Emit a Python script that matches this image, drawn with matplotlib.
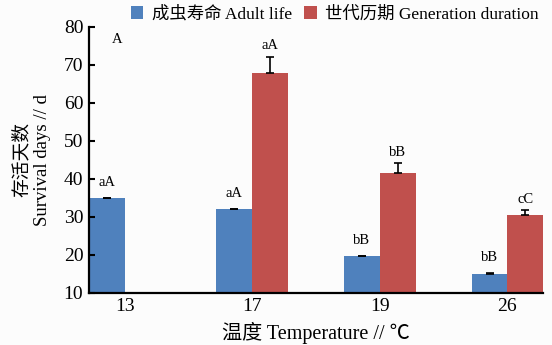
import numpy as np
import matplotlib.pyplot as plt

plt.rcParams['font.family'] = ['Liberation Serif', 'Noto Sans CJK SC']

temps = ['13', '17', '19', '26']
adult = [35, 32, 19.6, 15.1]
adult_err = [0, 0.2, 0.2, 0.2]
gen = [np.nan, 68, 41.5, 30.4]
gen_err = [0, 4.2, 2.6, 1.4]
adult_lab = ['aA', 'aA', 'bB', 'bB']
gen_lab = ['A', 'aA', 'bB', 'cC']

blue = '#4F81BD'
red = '#C0504D'

fig = plt.figure(figsize=(5.52, 3.45), dpi=100)
fig.patch.set_facecolor('#fcfcfc')
ax = fig.add_axes([0.161, 0.151, 0.823, 0.771])
ax.set_facecolor('#fcfcfc')

x = np.arange(len(temps))
w = 0.28
ekw = dict(ecolor='black', capsize=3, elinewidth=1.2, capthick=1.2)
ax.bar(x - w / 2, adult, w, color=blue, label='成虫寿命 Adult life',
       yerr=[np.zeros(4), adult_err], error_kw=ekw)
ax.bar(x + w / 2, gen, w, color=red, label='世代历期 Generation duration',
       yerr=[np.zeros(4), gen_err], error_kw=ekw)

for i in range(len(temps)):
    ax.text(x[i] - w / 2, adult[i] + adult_err[i] + 2.3, adult_lab[i],
            ha='center', va='bottom', fontsize=10.5)
    if np.isnan(gen[i]):
        ax.text(x[i] - 0.06, 75, gen_lab[i], ha='center', va='bottom', fontsize=10.5)
    else:
        ax.text(x[i] + w / 2, gen[i] + gen_err[i] + 1.2, gen_lab[i],
                ha='center', va='bottom', fontsize=10.5)

ax.set_xlim(-0.28, 3.28)
ax.set_ylim(10, 80)
ax.set_yticks(range(10, 81, 10))
ax.set_xticks(x)
ax.set_xticklabels(temps)
ax.tick_params(axis='y', direction='in', length=4, width=1.5, labelsize=14, pad=4)
ax.tick_params(axis='x', length=0, labelsize=14, pad=4)
for s in ['top', 'right']:
    ax.spines[s].set_visible(False)
for s in ['left', 'bottom']:
    ax.spines[s].set_linewidth(1.6)

ax.set_xlabel('温度 Temperature // ℃', fontsize=14.5, labelpad=5)
ax.set_ylabel('存活天数\nSurvival days // d', fontsize=13.5, labelpad=9, linespacing=1.25)

ax.legend(loc='lower left', bbox_to_anchor=(0.078, 0.99), ncol=2, frameon=False,
          fontsize=12.5, handlelength=0.7, handleheight=0.7, handletextpad=0.5,
          columnspacing=0.7, borderaxespad=0)

fig.savefig('out.png', dpi=100, facecolor=fig.get_facecolor())
